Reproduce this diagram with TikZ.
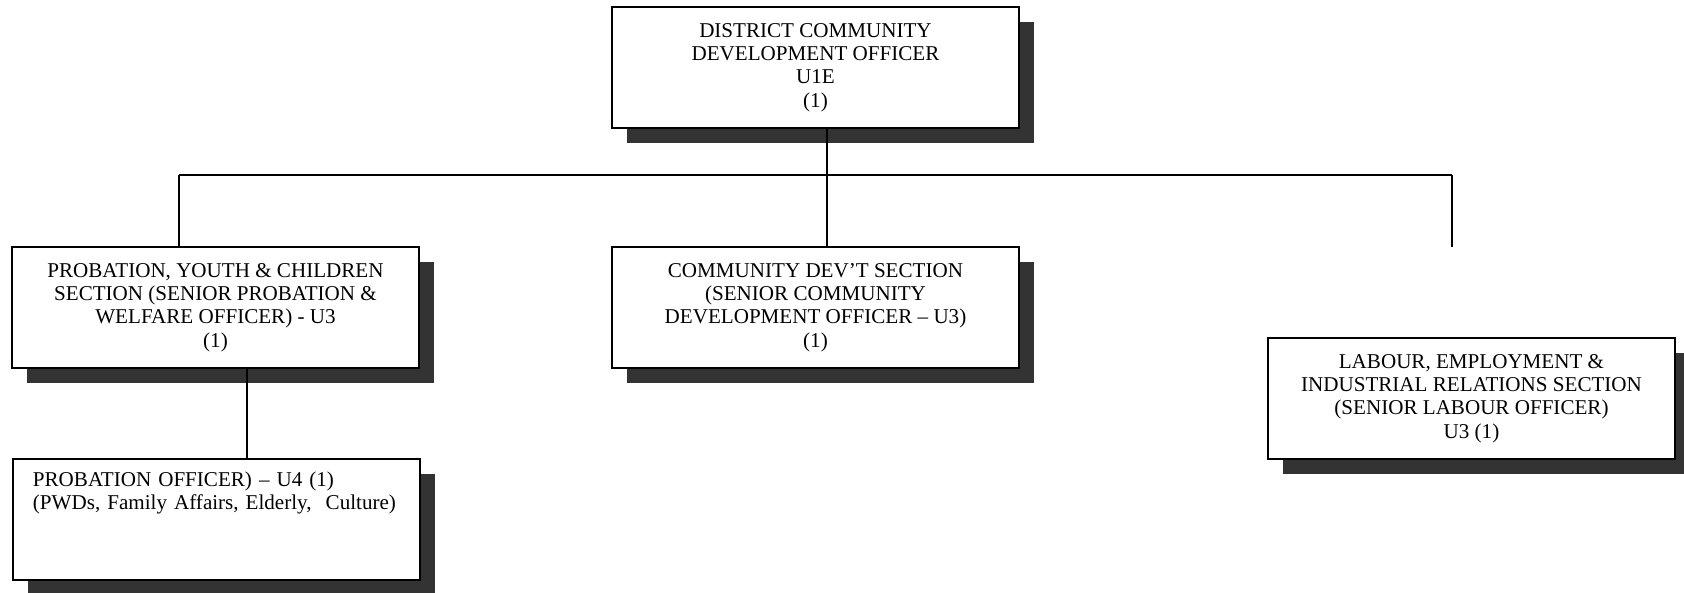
\documentclass[tikz,border=0pt]{standalone}
\usepackage{fontspec}
\setmainfont{Liberation Serif}
\usetikzlibrary{shadows}
\definecolor{shadowgray}{HTML}{333333}
\tikzset{
    office/.style = {draw, fill = white, line width = 1.1pt, align = center,
        minimum width = 8.14cm, minimum height = 2.42cm, inner sep = 0pt,
        font = \fontsize{12}{13.2}\selectfont,
        drop shadow = {shadow xshift = 0.3cm, shadow yshift = -0.3cm,
            fill = shadowgray, opacity = 1}},
    notebox/.style = {office, anchor = north west, align = left,
        text width = 7.34cm, inner xsep = 0.4cm, inner ysep = 0pt,
        text height = 0.54cm, text depth = 1.86cm},
    link/.style = {line width = 0.8pt}
}

\begin{document}
\begin{tikzpicture}[x = 0.02cm, y = -0.02cm]
    \useasboundingbox (0, 0) rectangle (1684, 592);

    \node[office] (dcdo) at (815.5, 67.5) {DISTRICT COMMUNITY\\DEVELOPMENT OFFICER\\U1E\\(1)};
    \node[office] (pyc) at (215.5, 307.5) {PROBATION, YOUTH \& CHILDREN\\SECTION (SENIOR PROBATION \&\\WELFARE OFFICER) - U3\\(1)};
    \node[office] (cds) at (815.5, 307.5) {COMMUNITY DEV’T SECTION\\(SENIOR COMMUNITY\\DEVELOPMENT OFFICER – U3)\\(1)};
    \node[office] (leir) at (1471.5, 398.5) {LABOUR, EMPLOYMENT \&\\INDUSTRIAL RELATIONS SECTION\\(SENIOR LABOUR OFFICER)\\U3 (1)};
    \node[notebox] (po) at (12, 458) {PROBATION OFFICER) – U4 (1)\\(PWDs, Family Affairs, Elderly,~ Culture)};

    \coordinate (busL) at (179, 175);
    \coordinate (busR) at (1452, 175);
    \coordinate (dropR) at (1452, 247);
    \coordinate (hub) at (827, 175);
    \coordinate (tie) at (247, 0);

    \draw[link] (busL) -- (busR);
    \draw[link] (dcdo.south -| hub) -- (cds.north -| hub);
    \draw[link] (busL) -- (busL |- pyc.north);
    \draw[link] (busR) -- (dropR);
    \draw[link] (pyc.south -| tie) -- (po.north -| tie);
\end{tikzpicture}
\end{document}
